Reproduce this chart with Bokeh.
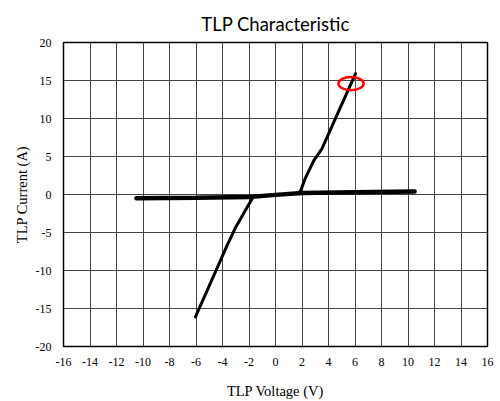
from bokeh.plotting import figure
from bokeh.embed import file_html
from bokeh.resources import INLINE
from bokeh.models import FixedTicker, Range1d

# Leakage (quasi-static) line
leak_v = [-10.5, -6.0, -2.0, 0.0, 2.0, 6.0, 10.5]
leak_i = [-0.5, -0.42, -0.32, -0.05, 0.2, 0.3, 0.38]

# Positive snapback branch
pos_v = [1.8, 1.9, 2.26, 2.9, 3.5, 4.78, 6.04]
pos_i = [0.3, 0.5, 2.2, 4.5, 6.0, 11.0, 15.9]

# Negative snapback branch
neg_v = [-1.76, -2.14, -3.0, -3.65, -6.04]
neg_i = [-0.57, -1.67, -4.3, -6.7, -16.1]

# Highlight marker
mark_v = [5.7]
mark_i = [14.6]
mark_w = [1.9]
mark_h = [1.75]

x_ticks = list(range(-16, 17, 2))
y_ticks = list(range(-20, 21, 5))
x_tick_labels = {t: str(t) for t in x_ticks}
y_tick_labels = {t: str(t) for t in y_ticks}

p = figure(width=500, height=401, output_backend="svg", toolbar_location=None,
           x_range=Range1d(-16, 16), y_range=Range1d(-20, 20),
           title="TLP Characteristic")
p.min_border_left = 63
p.min_border_right = 13
p.min_border_top = 42
p.min_border_bottom = 55
p.background_fill_color = "white"
p.border_fill_color = "white"
p.outline_line_color = "black"
p.outline_line_width = 1.5

p.title.align = "center"
p.title.text_font = "Lato"
p.title.text_font_style = "normal"
p.title.text_font_size = "18.5px"
p.title.text_color = "black"
p.title.standoff = 15

p.xaxis.ticker = FixedTicker(ticks=x_ticks)
p.yaxis.ticker = FixedTicker(ticks=y_ticks)
p.xaxis.major_label_overrides = x_tick_labels
p.yaxis.major_label_overrides = y_tick_labels
for ax in (p.xaxis, p.yaxis):
    ax.major_tick_line_color = None
    ax.minor_tick_line_color = None
    ax.axis_line_color = None
    ax.major_label_text_font = "Liberation Serif"
    ax.major_label_text_font_size = "12px"
    ax.major_label_text_color = "black"
    ax.axis_label_text_font = "Liberation Serif"
    ax.axis_label_text_font_size = "14.5px"
    ax.axis_label_text_font_style = "normal"
    ax.axis_label_text_color = "black"
p.xaxis.axis_label = "TLP Voltage (V)"
p.yaxis.axis_label = "TLP Current (A)"
p.xaxis.major_label_standoff = 5
p.yaxis.major_label_standoff = 6
p.xaxis.axis_label_standoff = 14
p.yaxis.axis_label_standoff = 3

p.xgrid.grid_line_color = "#444444"
p.ygrid.grid_line_color = "#444444"
p.xgrid.grid_line_width = 1
p.ygrid.grid_line_width = 1

p.line(leak_v, leak_i, line_color="black", line_width=4.5, line_cap="round")
p.line(pos_v, pos_i, line_color="black", line_width=3, line_cap="round", line_join="round")
p.line(neg_v, neg_i, line_color="black", line_width=3, line_cap="round", line_join="round")
p.ellipse(x=mark_v, y=mark_i, width=mark_w, height=mark_h, fill_color=None,
          line_color="red", line_width=2.5)

open("out.html", "w").write(file_html(p, INLINE))
